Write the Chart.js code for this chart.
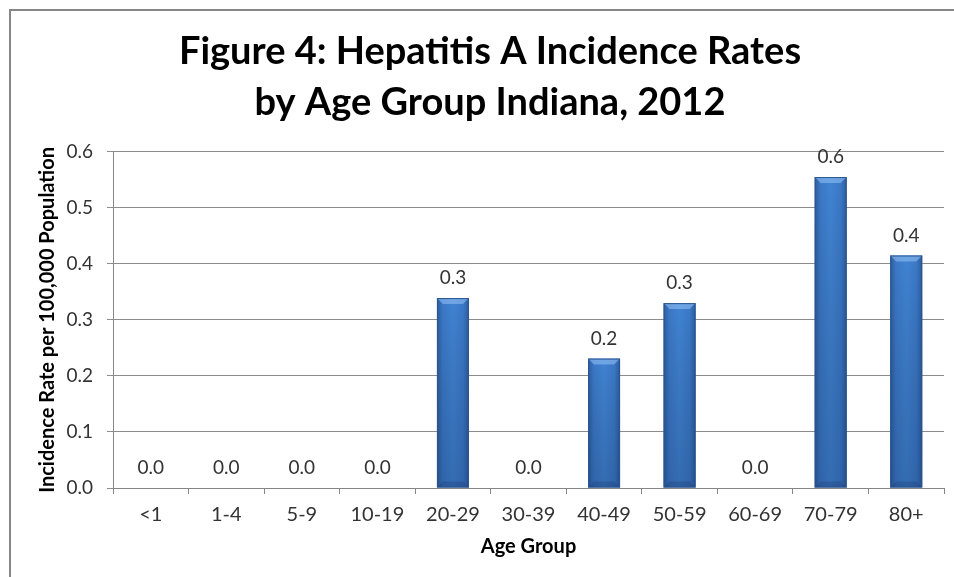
<!DOCTYPE html>
<html>
<head>
<meta charset="utf-8">
<script src="https://cdn.jsdelivr.net/npm/chart.js@4"></script>
<style>
  html, body { margin: 0; padding: 0; background: #fff; }
  #wrap { width: 954px; height: 577px; position: relative; }
</style>
</head>
<body>
<div id="wrap"><canvas id="chart" width="954" height="577"></canvas></div>
<script>
const ageGroups = ['<1', '1-4', '5-9', '10-19', '20-29', '30-39', '40-49', '50-59', '60-69', '70-79', '80+'];
const rates = [0, 0, 0, 0, 0.339, 0, 0.231, 0.330, 0, 0.555, 0.415];
const titleLines = ['Figure 4: Hepatitis A Incidence Rates', 'by Age Group Indiana, 2012'];

const FONT = 'Lato, "Open Sans", sans-serif';
const TEXT = '#333333';

// gray frame like the original Excel chart border (top + left only visible)
const framePlugin = {
  id: 'frame',
  beforeDraw(chart) {
    const c = chart.ctx;
    c.save();
    c.fillStyle = '#fff';
    c.fillRect(0, 0, chart.width, chart.height);
    c.strokeStyle = '#878787';
    c.lineWidth = 2;
    c.beginPath();
    c.moveTo(10, chart.height);
    c.lineTo(10, 10);
    c.lineTo(chart.width, 10);
    c.stroke();
    c.restore();
  }
};

// excel-2007 style bevel on bars + value labels
const barLook = {
  id: 'barLook',
  afterDatasetsDraw(chart) {
    const c = chart.ctx;
    const meta = chart.getDatasetMeta(0);
    c.save();
    meta.data.forEach((bar, i) => {
      const v = rates[i];
      const w = bar.width, x0 = bar.x - w / 2, x1 = bar.x + w / 2;
      const top = bar.y, bot = bar.base;
      if (bot - top > 1) {
        let g = c.createLinearGradient(x0, 0, x1, 0);
        g.addColorStop(0, '#2c5c9c');
        g.addColorStop(0.18, '#3b78c6');
        g.addColorStop(0.5, '#4083d2');
        g.addColorStop(0.82, '#3b78c6');
        g.addColorStop(1, '#2c5c9c');
        c.fillStyle = g;
        c.fillRect(x0, top, w, bot - top);
        let vg = c.createLinearGradient(0, top, 0, bot);
        vg.addColorStop(0, 'rgba(0,0,0,0)');
        vg.addColorStop(1, 'rgba(10,30,70,0.22)');
        c.fillStyle = vg;
        c.fillRect(x0, top, w, bot - top);
        // top bevel
        c.fillStyle = 'rgba(150,195,245,0.55)';
        c.beginPath();
        c.moveTo(x0, top);
        c.lineTo(x1, top);
        c.lineTo(x1 - 6, top + 6);
        c.lineTo(x0 + 6, top + 6);
        c.closePath();
        c.fill();
        // bottom bevel
        c.fillStyle = 'rgba(10,30,70,0.18)';
        c.beginPath();
        c.moveTo(x0, bot);
        c.lineTo(x1, bot);
        c.lineTo(x1 - 6, bot - 6);
        c.lineTo(x0 + 6, bot - 6);
        c.closePath();
        c.fill();
        c.strokeStyle = '#2a5590';
        c.lineWidth = 1;
        c.strokeRect(x0 + 0.5, top + 0.5, w - 1, bot - top - 1);
      }
      c.fillStyle = TEXT;
      c.font = '19px ' + FONT;
      c.textAlign = 'center';
      c.textBaseline = 'middle';
      c.fillText(v.toFixed(1), bar.x, top - 20);
    });
    c.restore();
  }
};

const chart = new Chart(document.getElementById('chart'), {
  type: 'bar',
  data: {
    labels: ageGroups,
    datasets: [{
      data: rates,
      backgroundColor: 'rgba(0,0,0,0)',
      borderWidth: 0,
      categoryPercentage: 1,
      barPercentage: 0.424
    }]
  },
  options: {
    responsive: false,
    animation: false,
    events: [],
    layout: { padding: { left: 36, right: 10, top: 0, bottom: 0 } },
    plugins: {
      legend: { display: false },
      tooltip: { enabled: false },
      title: {
        display: true,
        text: titleLines,
        color: '#000',
        font: { family: FONT, size: 38, weight: 'bold', lineHeight: 1.34 },
        padding: { top: 26, bottom: 24 }
      }
    },
    scales: {
      x: {
        offset: true,
        grid: { display: true, drawOnChartArea: false, drawTicks: true, tickLength: 6, color: '#868686', offset: true },
        border: { display: true, color: '#868686' },
        ticks: { color: TEXT, font: { family: FONT, size: 20 }, padding: 9, maxRotation: 0 },
        title: { display: true, text: 'Age Group', color: '#000', font: { family: FONT, size: 20, weight: 'bold' }, padding: { top: 0, bottom: 18 } },
        afterFit(scale) { scale.height = 89; }
      },
      y: {
        min: 0,
        max: 0.6,
        ticks: { stepSize: 0.1, color: TEXT, font: { family: FONT, size: 19 }, padding: 14, callback: v => v.toFixed(1) },
        grid: { color: '#8c8c8c', tickLength: 6 },
        border: { display: true, color: '#868686' },
        title: { display: true, text: 'Incidence Rate per 100,000 Population', color: '#000', font: { family: FONT, size: 20, weight: 'bold' }, padding: { top: 0, bottom: 0 } },
        afterFit(scale) { scale.width = 77; }
      }
    }
  },
  plugins: [framePlugin, barLook]
});
</script>
</body>
</html>
